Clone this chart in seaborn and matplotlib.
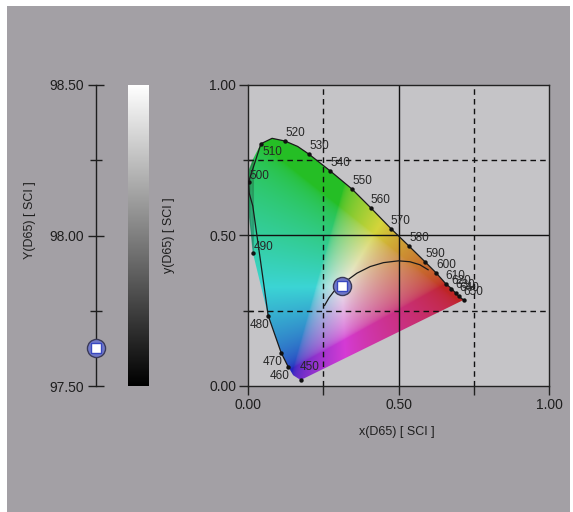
import numpy as np
import matplotlib
matplotlib.use("Agg")
import matplotlib.pyplot as plt
from matplotlib.patches import Rectangle, Polygon
import seaborn as sns

sns.set_theme(style="white")
plt.rcParams['font.family'] = ['Liberation Sans', 'DejaVu Sans']

# spectral locus dots (x, y chromaticity)
wavelengths = [450, 460, 470, 480, 490, 500, 510, 520, 530, 540, 550,
               560, 570, 580, 590, 600, 610, 620, 630, 640, 650]
locus_x = [0.175, 0.134, 0.110, 0.067, 0.016, 0.002, 0.043, 0.123, 0.203, 0.274, 0.346,
           0.408, 0.475, 0.536, 0.588, 0.626, 0.657, 0.676, 0.690, 0.701, 0.716]
locus_y = [0.019, 0.062, 0.110, 0.233, 0.442, 0.677, 0.804, 0.813, 0.769, 0.713, 0.653,
           0.591, 0.522, 0.463, 0.412, 0.374, 0.339, 0.323, 0.308, 0.297, 0.285]

# outline of the horseshoe (dots plus the bends between them)
edge_x = [0.175, 0.150, 0.134, 0.110, 0.067, 0.016, 0.004, 0.002, 0.004, 0.016, 0.043,
          0.080, 0.123, 0.165, 0.203, 0.274, 0.346, 0.408, 0.475, 0.536, 0.588,
          0.626, 0.657, 0.676, 0.690, 0.701, 0.716]
edge_y = [0.019, 0.035, 0.062, 0.110, 0.233, 0.442, 0.560, 0.677, 0.720, 0.752, 0.804,
          0.822, 0.813, 0.795, 0.769, 0.713, 0.653, 0.591, 0.522, 0.463, 0.412,
          0.374, 0.339, 0.323, 0.308, 0.297, 0.285]

# blackbody curve
planck_x = [0.254, 0.269, 0.285, 0.311, 0.329, 0.362, 0.406, 0.450, 0.500, 0.538, 0.571, 0.599]
planck_y = [0.266, 0.292, 0.313, 0.332, 0.350, 0.374, 0.396, 0.409, 0.415, 0.412, 0.402, 0.385]

# sample
sample_x = [0.311]
sample_y = [0.332]
sample_Y = [97.625]

lum_ticks = [97.50, 98.00, 98.50]
lum_minor = [97.75, 98.25]
xy_ticks = [0.0, 0.5, 1.0]
xy_minor = [0.25, 0.75]

W, H = 573, 512
fig = plt.figure(figsize=(W / 100, H / 100), dpi=100)
fig.patch.set_facecolor('white')
fig.add_artist(Rectangle((7 / W, 0), 563 / W, 506 / H, transform=fig.transFigure,
                         facecolor='#a3a0a5', edgecolor='none', zorder=-10))
txt = '#1e1e1e'


def sample_marker(axis, xs, ys, clip):
    sns.scatterplot(x=xs, y=ys, ax=axis, marker='o', s=170, facecolor='#7078c8',
                    edgecolor='#3a3a58', linewidth=1.0, clip_on=clip, zorder=6)
    sns.scatterplot(x=xs, y=ys, ax=axis, marker='s', s=60, facecolor='white',
                    edgecolor='#3848c0', linewidth=1.0, clip_on=clip, zorder=7)


# ---- luminance axis ----
ax_y = fig.add_axes([96 / W, 126 / H, 20 / W, 301 / H])
ax_y.patch.set_alpha(0)
ax_y.set_xlim(0, 1)
ax_y.set_ylim(97.5, 98.5)
for s in ['top', 'right', 'bottom']:
    ax_y.spines[s].set_visible(False)
ax_y.spines['left'].set_color(txt)
ax_y.spines['left'].set_linewidth(1)
ax_y.set_xticks([])
ax_y.set_yticks(lum_ticks)
ax_y.set_yticklabels([f'{v:.2f}' for v in lum_ticks])
ax_y.set_yticks(lum_minor, minor=True)
ax_y.tick_params(axis='y', which='major', direction='inout', length=11, width=1,
                 color=txt, labelcolor=txt, labelsize=10, pad=3, left=True)
ax_y.tick_params(axis='y', which='minor', direction='inout', length=8, width=1,
                 color=txt, left=True)
sample_marker(ax_y, [0] * len(sample_Y), sample_Y, False)
ax_y.set_xlabel('')
ax_y.set_ylabel('')
fig.text(30 / W, 1 - 220 / H, 'Y(D65) [ SCI ]', rotation=90, ha='center', va='center',
         fontsize=9, color=txt)

# ---- grey bar ----
ax_c = fig.add_axes([128 / W, 126 / H, 21 / W, 301 / H])
ax_c.imshow(np.linspace(0, 1, 256)[:, None], cmap='gray', aspect='auto', origin='lower')
ax_c.axis('off')
fig.text(169 / W, 1 - 235 / H, 'y(D65) [ SCI ]', rotation=90, ha='center', va='center',
         fontsize=9, color=txt)

# ---- chromaticity diagram ----
ax = fig.add_axes([248 / W, 125.5 / H, 301 / W, 302.5 / H])
ax.set_facecolor('#c5c4c7')
ax.set_xlim(0, 1)
ax.set_ylim(0, 1)

n = 400
gx, gy = np.meshgrid(np.linspace(0, 1, n), np.linspace(0, 1, n))
gyc = np.clip(gy, 1e-3, None)
XYZ = np.stack([gx / gyc, np.ones_like(gx), (1 - gx - gy) / gyc], axis=-1)
M = np.array([[3.2406, -1.5372, -0.4986],
              [-0.9689, 1.8758, 0.0415],
              [0.0557, -0.2040, 1.0570]])
rgb = np.clip(XYZ @ M.T, 0, None)
rgb = rgb / rgb.max(axis=-1, keepdims=True)
rgb = np.where(rgb <= 0.0031308, 12.92 * rgb, 1.055 * rgb ** (1 / 2.4) - 0.055)
rgb = np.clip(rgb, 0, 1)
grey = rgb.mean(axis=-1, keepdims=True)
rgb = 0.06 + 0.86 * (0.7 * rgb + 0.3 * grey)
im = ax.imshow(rgb, extent=[0, 1, 0, 1], origin='lower', zorder=1, interpolation='bilinear')
poly = Polygon(np.column_stack([edge_x, edge_y]), closed=True, transform=ax.transData,
               facecolor='none', edgecolor='none')
ax.add_patch(poly)
im.set_clip_path(poly)

for v in xy_minor:
    ax.axvline(v, color='#111', lw=1, ls=(0, (4, 3)), zorder=2)
    ax.axhline(v, color='#111', lw=1, ls=(0, (4, 3)), zorder=2)
ax.axvline(0.5, color='#111', lw=1, zorder=2)
ax.axhline(0.5, color='#111', lw=1, zorder=2)

sns.lineplot(x=edge_x[2:], y=edge_y[2:], sort=False, ax=ax, color='#1a1a1a', lw=0.9, zorder=3)
sns.lineplot(x=planck_x, y=planck_y, sort=False, ax=ax, color='#1a1a1a', lw=0.9, zorder=3)
sns.scatterplot(x=locus_x, y=locus_y, ax=ax, color='#111', s=10, linewidth=0, zorder=4)

for wl, lx, ly in zip(wavelengths, locus_x, locus_y):
    if wl in (460, 470, 480):
        ha, va, off = 'right', 'top', (1, -3)
    elif wl == 450:
        ha, va, off = 'left', 'bottom', (-1, 7)
    elif wl == 510:
        ha, va, off = 'left', 'top', (2, -2)
    elif wl in (490, 500):
        ha, va, off = 'left', 'bottom', (1, 0)
    else:
        ha, va, off = 'left', 'bottom', (0, 2)
    ax.annotate(str(wl), (lx, ly), xytext=off, textcoords='offset pixels',
                ha=ha, va=va, fontsize=8.5, color='#262626', zorder=5)

sample_marker(ax, sample_x, sample_y, True)

for s in ax.spines.values():
    s.set_color('#222')
    s.set_linewidth(1)
ax.set_xticks(xy_ticks)
ax.set_xticklabels([f'{v:.2f}' for v in xy_ticks])
ax.set_yticks(xy_ticks)
ax.set_yticklabels([f'{v:.2f}' for v in xy_ticks])
ax.set_xticks(xy_minor, minor=True)
ax.set_yticks(xy_minor, minor=True)
ax.tick_params(axis='both', which='major', direction='out', length=6.5, width=1,
               color='#222', labelcolor=txt, labelsize=10, pad=2, bottom=True, left=True)
ax.tick_params(axis='x', which='minor', direction='out', length=6.5, width=1,
               color='#222', bottom=True)
ax.tick_params(axis='y', which='minor', direction='inout', length=7, width=1,
               color='#222', left=True)
ax.set_xlabel('')
ax.set_ylabel('')
fig.text(397 / W, 1 - 432 / H, 'x(D65) [ SCI ]', ha='center', va='center',
         fontsize=9, color=txt)

fig.savefig('out.png', dpi=100, facecolor=fig.get_facecolor())
